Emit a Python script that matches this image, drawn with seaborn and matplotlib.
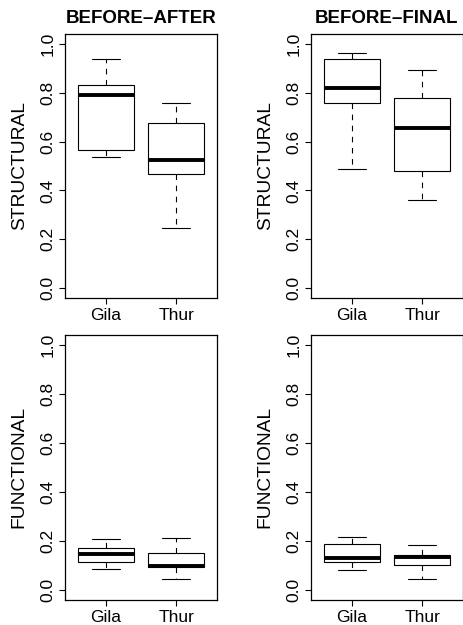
"""
Boxplots of structural / functional similarity for the two rivers,
before-after vs before-final, drawn in the look of base-R boxplot().
"""

import matplotlib
matplotlib.use("Agg")
import matplotlib.pyplot as plt
import pandas as pd
import seaborn as sns

# ------------------------------------------------------------------
# DATA  (five-number summaries:
#        min, Q1, median, Q3, max)
# ------------------------------------------------------------------
SITES = ["Gila", "Thur"]
Y_TICKS = [0.0, 0.2, 0.4, 0.6, 0.8, 1.0]

STRUCT_BA_GILA = [0.537, 0.565, 0.789, 0.830, 0.939]
STRUCT_BA_THUR = [0.248, 0.466, 0.526, 0.674, 0.756]
STRUCT_BF_GILA = [0.486, 0.757, 0.820, 0.939, 0.963]
STRUCT_BF_THUR = [0.361, 0.480, 0.657, 0.777, 0.892]
FUNC_BA_GILA = [0.088, 0.116, 0.146, 0.173, 0.208]
FUNC_BA_THUR = [0.045, 0.093, 0.098, 0.152, 0.211]
FUNC_BF_GILA = [0.082, 0.114, 0.131, 0.188, 0.215]
FUNC_BF_THUR = [0.044, 0.102, 0.136, 0.143, 0.186]

PANELS = [
    # (gila, thur, title, ylabel, axes rect in pixels: left, top, right, bottom)
    (STRUCT_BA_GILA, STRUCT_BA_THUR, "BEFORE\u2013AFTER", "STRUCTURAL", (65, 34, 217, 298)),
    (STRUCT_BF_GILA, STRUCT_BF_THUR, "BEFORE\u2013FINAL", "STRUCTURAL", (311, 34, 463, 298)),
    (FUNC_BA_GILA, FUNC_BA_THUR, None, "FUNCTIONAL", (65, 335, 217, 600)),
    (FUNC_BF_GILA, FUNC_BF_THUR, None, "FUNCTIONAL", (311, 335, 463, 600)),
]

W, H = 464, 625


def make_frame(gila, thur):
    return pd.DataFrame({
        "site": [SITES[0]] * len(gila) + [SITES[1]] * len(thur),
        "value": list(gila) + list(thur),
    })


def draw_panel(fig, gila, thur, title, ylabel, rect):
    l, t, r, b = rect
    ax = fig.add_axes([l / W, 1 - b / H, (r - l) / W, (b - t) / H])

    sns.boxplot(
        data=make_frame(gila, thur), x="site", y="value", order=SITES,
        ax=ax, width=0.8, whis=(0, 100), showfliers=False,
        color="white", linecolor="black", linewidth=0.8,
        medianprops=dict(color="black", linewidth=2.8),
        whiskerprops=dict(linestyle=(0, (5, 5))),
    )

    ax.set_xlim(-0.58, 1.58)
    ax.set_ylim(-0.04, 1.04)
    ax.set_yticks(Y_TICKS)
    ax.set_yticklabels([f"{v:.1f}" for v in Y_TICKS], rotation=90, va="center")
    ax.set_xlabel("")
    ax.set_ylabel(ylabel, fontsize=13.8, labelpad=9, color="black")
    ax.tick_params(direction="out", length=4, width=0.8, labelsize=12.5,
                   left=True, bottom=True, pad=3, colors="black")
    for sp in ax.spines.values():
        sp.set_visible(True)
        sp.set_color("black")
        sp.set_linewidth(0.9)
    if title:
        ax.set_title(title, fontsize=13.5, fontweight="bold", pad=8, color="black")
    return ax


sns.set_style("white")
plt.rcParams["font.family"] = ["Liberation Sans", "DejaVu Sans"]
plt.rcParams["text.color"] = "black"

fig = plt.figure(figsize=(W / 100, H / 100), dpi=100)
for gila, thur, title, ylabel, rect in PANELS:
    draw_panel(fig, gila, thur, title, ylabel, rect)

fig.savefig("out.png", dpi=100, facecolor="white")
